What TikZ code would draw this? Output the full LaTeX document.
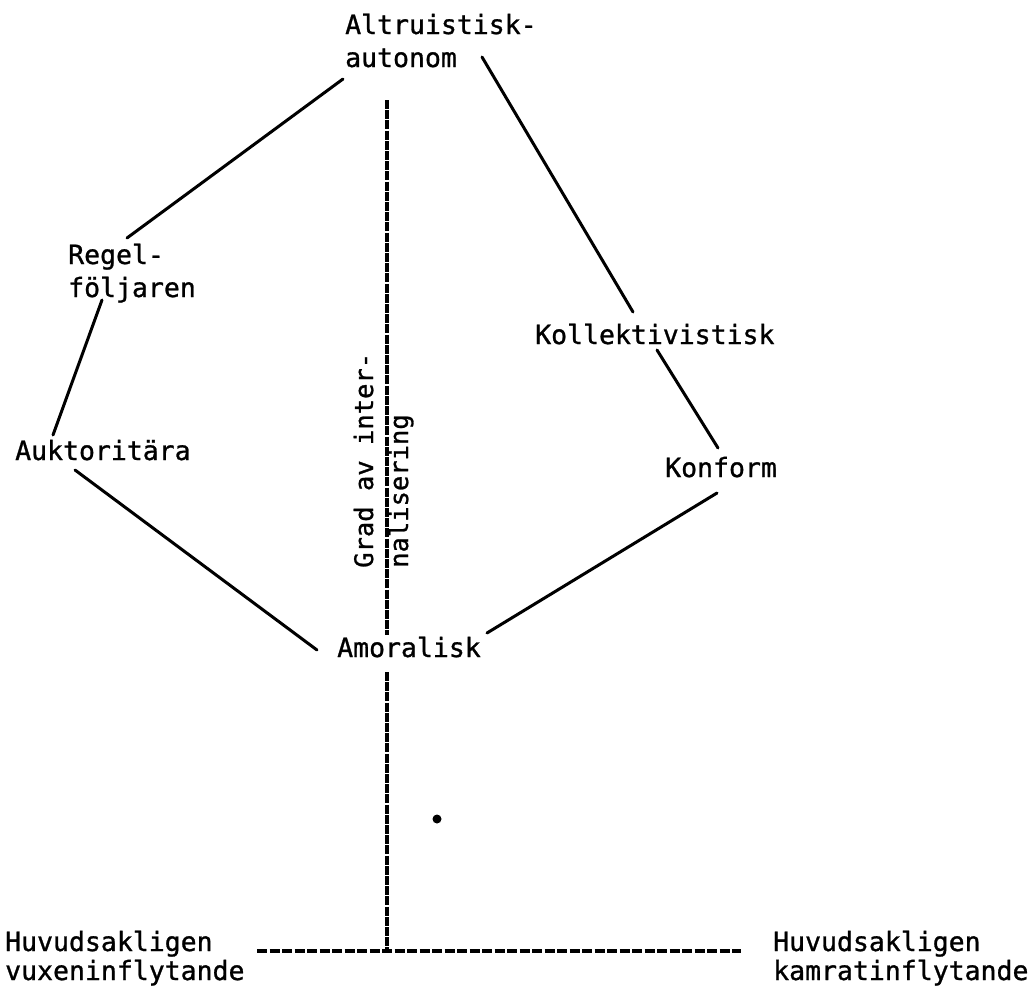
\documentclass[tikz,border=0pt]{standalone}
\usepackage{fontspec}
\newfontfamily\twfont[FakeBold=1]{DejaVu Sans Mono}
\begin{document}
\begin{tikzpicture}[x=1pt,y=-1pt,
  lbl/.style={font=\twfont\fontsize{26.5}{33}\selectfont, inner sep=0pt, anchor=base west, align=left},
  lblb/.style={lbl, font=\twfont\fontsize{26.5}{29}\selectfont},
  conn/.style={line width=3pt, line cap=round},
  axisv/.style={line width=3.8pt, dash pattern=on 9pt off 1.2pt},
  axish/.style={line width=4pt, dash pattern=on 10pt off 2.5pt}]
\useasboundingbox (0,0) rectangle (1035,988);

% labels (base west = baseline of the last line)
\node[lbl] (alt)   at (345,67)  {Altruistisk-\\autonom};
\node[lbl] (regel) at (68,297)  {Regel-\\följaren};
\node[lbl] (aukt)  at (15,460)  {Auktoritära};
\node[lbl] (koll)  at (535,344) {Kollektivistisk};
\node[lbl] (konf)  at (665,477) {Konform};
\node[lbl] (amor)  at (337,657) {Amoralisk};
\node[lbl, rotate=90, font=\twfont\fontsize{25.5}{35}\selectfont] (grad) at (408,568) {Grad av inter-\\nalisering};
\node[lblb] (vuxen) at (5,980)   {Huvudsakligen\\vuxeninflytande};
\node[lblb] (kamr)  at (773,980) {Huvudsakligen\\kamratinflytande};

% connectors
\draw[conn] ([shift={(-2,12)}]alt.base west) -- ([shift={(59,-59)}]regel.base west);
\draw[conn] ([shift={(137,-10)}]alt.base west) -- ([shift={(98,-32)}]koll.base west);
\draw[conn] ([shift={(34,3)}]regel.base west) -- ([shift={(38,-25)}]aukt.base west);
\draw[conn] ([shift={(122,6)}]koll.base west) -- ([shift={(53,-29)}]konf.base west);
\draw[conn] ([shift={(60,10)}]aukt.base west) -- ([shift={(-20,-7)}]amor.base west);
\draw[conn] ([shift={(52,16)}]konf.base west) -- ([shift={(150,-24)}]amor.base west);

% axes
\coordinate (axtop) at (387,100);
\coordinate (axgapa) at (387,635);
\coordinate (axgapb) at (387,672);
\coordinate (axorig) at (387,951);
\coordinate (axleft) at (257,951);
\coordinate (axright) at (741,951);
\draw[axisv] (axtop) -- (axgapa);
\draw[axisv] (axgapb) -- (axorig);
\draw[axish] (axleft) -- (axright);

% dot
\fill (437,819) circle (4.5);
\end{tikzpicture}
\end{document}
